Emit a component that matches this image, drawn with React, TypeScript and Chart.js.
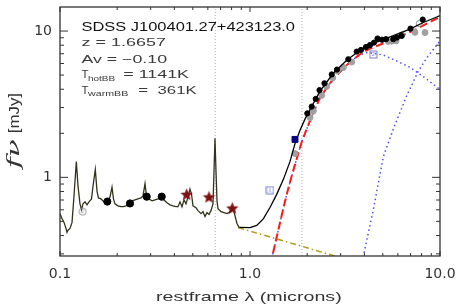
import React, { useEffect, useRef } from 'react';
import { Chart, registerables } from 'chart.js';
Chart.register(...registerables);

// ---------- axis ranges & ticks ----------
const X_MIN = 0.1;
const X_MAX = 10;
const Y_MIN = 0.29;
const Y_MAX = 14.6;
const xTickValues = [0.1, 1, 10];
const xTickLabels = ['0.1', '1.0', '10.0'];
const yTickValues = [1, 10];
const yTickLabels = ['1', '10'];
const xMinorTicks = [0.2, 0.3, 0.4, 0.5, 0.6, 0.7, 0.8, 0.9, 2, 3, 4, 5, 6, 7, 8, 9];
const yMinorTicks = [0.3, 0.4, 0.5, 0.6, 0.7, 0.8, 0.9, 2, 3, 4, 5, 6, 7, 8, 9];

// ---------- data (restframe wavelength in microns, flux in mJy) ----------
const specWave = [
  0.1, 0.1024, 0.105, 0.1075, 0.1088, 0.1102, 0.1129, 0.1157, 0.1185, 0.1219, 0.1244, 0.1274,
  0.1298, 0.1321, 0.1354, 0.1387, 0.1421, 0.1465, 0.1492, 0.1534, 0.1566, 0.1594, 0.1643, 0.1704,
  0.1746, 0.1788, 0.1833, 0.1878, 0.1912, 0.1947, 0.2019, 0.2094, 0.2158, 0.2225, 0.2307, 0.2393,
  0.2481, 0.2573, 0.2669, 0.2734, 0.2802, 0.2853, 0.2941, 0.305, 0.3162, 0.3279, 0.3401, 0.3527,
  0.3657, 0.3793, 0.3933, 0.4079, 0.4179, 0.4281, 0.4386, 0.4494, 0.4604, 0.4717, 0.4832, 0.4921,
  0.5012, 0.5197, 0.5325, 0.5522, 0.5658, 0.5796, 0.5938, 0.6084, 0.6233, 0.6386, 0.6464, 0.6543,
  0.6623, 0.6704, 0.6786, 0.7037, 0.7298, 0.7568, 0.7754, 0.7943, 0.8138, 0.8337, 0.8541, 0.875,
  0.8857,
];
const specFlux = [
  0.565, 0.523, 0.492, 0.448, 0.421, 0.435, 0.448, 0.492, 0.746, 1.28, 0.87, 0.659,
  0.601, 0.659, 0.68, 0.649, 0.68, 0.712, 0.87, 1.131, 0.806, 0.723, 0.712, 0.68,
  0.659, 0.691, 0.735, 0.857, 0.712, 0.659, 0.639, 0.63, 0.63, 0.639, 0.659, 0.691,
  0.701, 0.712, 0.723, 0.746, 0.905, 0.746, 0.712, 0.691, 0.701, 0.712, 0.723, 0.701,
  0.67, 0.649, 0.639, 0.63, 0.63, 0.68, 0.63, 0.701, 0.659, 0.735, 0.831, 0.769,
  0.639, 0.62, 0.592, 0.565, 0.583, 0.54, 0.574, 0.557, 0.592, 0.659, 1.097, 1.853,
  1.097, 0.691, 0.611, 0.583, 0.574, 0.565, 0.574, 0.583, 0.611, 0.548, 0.484, 0.455,
  0.455,
];
const modelWave = [0.8857, 1.0, 1.085, 1.175, 1.274, 1.382, 1.497, 1.623, 1.725, 1.833, 1.947, 1.988, 2.336, 2.744, 3.228, 3.793, 4.642, 5.677, 6.95, 8.17, 9.61, 10.0];
const modelFlux = [0.455, 0.453, 0.469, 0.52, 0.622, 0.765, 0.965, 1.28, 1.7, 2.1, 2.5, 2.64, 3.88, 5.145, 6.32, 7.38, 8.4, 9.3, 10.31, 11.44, 12.47, 12.75];
const totalBBWave = [1.25, 1.31, 1.4, 1.5, 1.561, 1.65, 1.725, 1.871, 1.988, 2.15, 2.336, 2.54, 2.744, 3.0, 3.228, 3.5, 3.8, 4.2, 4.642, 5.15, 5.677, 6.3, 6.95, 7.5, 8.17, 9.0, 9.61, 10.0];
const totalBBFlux = [0.21, 0.29, 0.42, 0.62, 0.765, 1.0, 1.222, 1.744, 2.142, 2.75, 3.5, 4.1, 4.7, 5.3, 5.85, 6.4, 6.95, 7.5, 7.9, 8.35, 8.8, 9.3, 9.85, 10.3, 10.95, 11.65, 12.15, 12.45];
const hotBBWave = [1.25, 1.31, 1.4, 1.5, 1.561, 1.65, 1.725, 1.871, 1.988, 2.15, 2.336, 2.54, 2.744, 3.0, 3.228, 3.5, 3.8, 4.1, 4.457, 5.03, 5.917, 6.95, 8.17, 9.79, 10.0];
const hotBBFlux = [0.21, 0.29, 0.42, 0.62, 0.765, 1.0, 1.222, 1.744, 2.142, 2.75, 3.5, 4.1, 4.7, 5.3, 5.85, 6.4, 6.9, 7.1, 7.05, 6.85, 6.24, 5.65, 4.88, 4.08, 4.0];
const warmBBWave = [3.8, 3.95, 4.457, 5.03, 5.677, 6.68, 7.66, 8.65, 9.79, 10.0];
const warmBBFlux = [0.2, 0.29, 0.6, 1.383, 2.14, 3.61, 5.28, 6.74, 8.25, 8.6];
const powerLawWave = [0.868, 2.8];
const powerLawFlux = [0.453, 0.29];
const emissionLineWave = [0.6563, 1.8756];

const uvPhotWave = [0.1774, 0.2336, 0.286, 0.343];
const uvPhotFlux = [0.683, 0.663, 0.738, 0.738];
const galexWave = [0.1317];
const galexFlux = [0.583];
const sdssWave = [0.464, 0.608, 0.807];
const sdssFlux = [0.766, 0.735, 0.617];
const nirWave = [1.725];
const nirFlux = [1.817];
const openSqWave = [1.274, 4.457];
const openSqFlux = [0.818, 6.91];
const irsBlackWave = [2.003, 2.112, 2.218, 2.322, 2.466, 2.692, 2.87, 3.291, 3.643, 3.838, 4.078, 4.28, 4.494, 4.69, 4.95, 5.197, 5.677, 5.937, 6.285, 6.993, 8.11];
const irsBlackFlux = [2.737, 3.045, 3.435, 3.946, 4.395, 5.05, 5.455, 6.415, 7.234, 7.426, 7.78, 8.02, 8.34, 8.89, 8.73, 8.8, 8.8, 9.03, 9.26, 10.39, 11.98];
const irsGrayWave = [1.725, 2.07, 2.154, 2.384, 2.533, 2.725, 2.881, 3.098, 3.43, 5.345, 5.569, 5.868, 7.385, 8.34];
const irsGrayFlux = [1.455, 2.563, 2.84, 3.636, 4.18, 4.785, 5.33, 5.626, 6.14, 8.49, 8.53, 8.56, 9.8, 9.76];
const irsOpenWave = [6.285, 7.78];
const irsOpenFlux = [9.4, 11.26];

const objectName = 'SDSS J100401.27+423123.0';
const redshiftText = 'z = 1.6657';
const avText = 'Av = \u22120.10';
const tHot = '= 1141K';
const tWarm = '=  361K';

const pts = (xs: number[], ys: number[]) => xs.map((x, i) => ({ x, y: ys[i] }));

function makeStar(size: number, color: string) {
  const c = document.createElement('canvas');
  c.width = size; c.height = size;
  const g = c.getContext('2d')!;
  const cx = size / 2, cy = size / 2 + 0.5, R = size / 2, r = R * 0.45;
  g.beginPath();
  for (let i = 0; i < 10; i++) {
    const a = -Math.PI / 2 + (i * Math.PI) / 5;
    const rad = i % 2 ? r : R;
    g.lineTo(cx + rad * Math.cos(a), cy + rad * Math.sin(a));
  }
  g.closePath();
  g.fillStyle = color;
  g.fill();
  return c;
}

function makeLabelled(shape: 'sq' | 'circ', label: string, color: string) {
  const c = document.createElement('canvas');
  c.width = 9; c.height = 9;
  const g = c.getContext('2d')!;
  g.strokeStyle = color;
  g.lineWidth = 0.9;
  if (shape === 'sq') g.strokeRect(1, 1, 7, 7);
  else { g.beginPath(); g.arc(4.5, 4.5, 3.6, 0, Math.PI * 2); g.stroke(); }
  g.fillStyle = color;
  g.font = '5px "Liberation Sans"';
  g.textAlign = 'center';
  g.textBaseline = 'middle';
  g.fillText(label, 4.5, 4.8);
  return c;
}

// draw text stretched horizontally to a given width
function fit(ctx: CanvasRenderingContext2D, text: string, x: number, y: number, width: number) {
  const w = ctx.measureText(text).width;
  ctx.save();
  ctx.translate(x, y);
  ctx.scale(width / w, 1);
  ctx.fillText(text, 0, 0);
  ctx.restore();
}

const overlay = {
  id: 'overlay',
  afterDraw(chart: any) {
    const { ctx, chartArea: a, scales } = chart;
    const xs = scales.x, ys = scales.y;
    ctx.save();
    // frame
    ctx.strokeStyle = '#333';
    ctx.lineWidth = 1.3;
    ctx.strokeRect(a.left, a.top, a.right - a.left, a.bottom - a.top);
    // ticks
    ctx.lineWidth = 1;
    ctx.beginPath();
    const xt = (v: number, len: number) => {
      const p = xs.getPixelForValue(v);
      ctx.moveTo(p, a.bottom); ctx.lineTo(p, a.bottom - len);
      ctx.moveTo(p, a.top); ctx.lineTo(p, a.top + len);
    };
    const yt = (v: number, len: number) => {
      const p = ys.getPixelForValue(v);
      ctx.moveTo(a.left, p); ctx.lineTo(a.left + len, p);
      ctx.moveTo(a.right, p); ctx.lineTo(a.right - len, p);
    };
    xTickValues.forEach((v) => xt(v, 5));
    xMinorTicks.forEach((v) => xt(v, 3));
    yTickValues.forEach((v) => yt(v, 8));
    yMinorTicks.forEach((v) => yt(v, 4));
    ctx.stroke();

    // annotations
    ctx.textAlign = 'left';
    ctx.textBaseline = 'alphabetic';
    ctx.fillStyle = '#111';
    ctx.font = '13.5px "Liberation Sans"';
    fit(ctx, objectName, 81.5, 30.7, 213.5);
    ctx.fillStyle = '#3a3a3a';
    ctx.font = '11.5px "Liberation Sans"';
    fit(ctx, redshiftText, 81.5, 46, 84.5);
    fit(ctx, avText, 81.5, 63, 85.5);
    fit(ctx, 'T', 81.5, 78.3, 7);
    fit(ctx, 'T', 81.5, 93.5, 7);
    fit(ctx, tHot, 123.3, 78.3, 65.7);
    fit(ctx, tWarm, 138.3, 93.5, 58.4);
    ctx.font = '8px "Liberation Sans"';
    fit(ctx, 'hotBB', 88, 80.5, 27);
    fit(ctx, 'warmBB', 88, 96, 40.3);

    // x title
    ctx.fillStyle = '#333';
    ctx.font = '13.5px "Liberation Sans"';
    fit(ctx, 'restframe \u03bb (microns)', 156, 300.5, 185.7);

    // y title (rotated)
    ctx.save();
    ctx.translate(18.5, 168.3);
    ctx.rotate(-Math.PI / 2);
    ctx.font = 'italic 16px "DejaVu Serif"';
    fit(ctx, 'f\u03bd', 0, 0, 29);
    ctx.font = '14px "Liberation Sans"';
    fit(ctx, '[mJy]', 35, 0, 40.3);
    ctx.restore();

    ctx.restore();
  },
};

export default function App() {
  const ref = useRef<HTMLCanvasElement>(null);
  useEffect(() => {
    const star = makeStar(13, '#7d1010');
    const sqLabelled1 = makeLabelled('sq', '1', '#6a6ad0');
    const sqLabelled2 = makeLabelled('sq', '2', '#6a6ad0');
    const circLabelled = makeLabelled('circ', '2', '#8a8a8a');

    const lineDs = (label: string, xs: number[], ys: number[], color: string, width: number, dash: number[], order: number) => ({
      label, data: pts(xs, ys), showLine: true, borderColor: color, borderWidth: width,
      borderDash: dash, pointRadius: 0, fill: false, tension: 0, order,
    });
    const dotDs = (label: string, xs: number[], ys: number[], style: any, radius: number, bg: string, border: string, order: number) => ({
      label, data: pts(xs, ys), showLine: false, pointStyle: style, pointRadius: radius,
      backgroundColor: bg, borderColor: border, borderWidth: 1, order,
    });

    const datasets: any[] = [
      ...emissionLineWave.map((w, i) => lineDs('line' + i, [w, w], [Y_MIN, Y_MAX], '#b0b0b0', 1, [1, 2], 20)),
      lineDs('warm BB', warmBBWave, warmBBFlux, '#5050e6', 1.5, [1.5, 3], 12),
      lineDs('hot BB', hotBBWave, hotBBFlux, '#5050e6', 1.5, [1.5, 3], 12),
      lineDs('total BB', totalBBWave, totalBBFlux, '#ff1a1a', 2, [8, 4], 11),
      lineDs('power law', powerLawWave, powerLawFlux, '#b09c1c', 1.5, [6, 3, 1.5, 3], 10),
      dotDs('IRS gray', irsGrayWave, irsGrayFlux, 'circle', 3, '#a0a0a0', '#a0a0a0', 9),
      dotDs('IRS open', irsOpenWave, irsOpenFlux, 'circle', 3, 'rgba(0,0,0,0)', '#8a8a8a', 9),
      lineDs('spectrum', specWave, specFlux, '#33331a', 1.3, [], 8),
      lineDs('model', modelWave, modelFlux, '#000000', 1.3, [], 7),
      dotDs('IRS black', irsBlackWave, irsBlackFlux, 'circle', 2.6, '#000', '#000', 5),
      dotDs('UV phot', uvPhotWave, uvPhotFlux, 'circle', 3.6, '#000', '#000', 4),
      dotDs('GALEX', galexWave, galexFlux, circLabelled, 4, '#fff', '#888', 4),
      dotDs('SDSS', sdssWave, sdssFlux, star, 6, '#7d1010', '#7d1010', 3),
      dotDs('NIR', nirWave, nirFlux, 'rect', 4.2, '#000080', '#000080', 2),
      {
        label: 'open sq', data: pts(openSqWave, openSqFlux), showLine: false,
        pointStyle: [sqLabelled1, sqLabelled2], pointRadius: 4, order: 2,
      },
    ];

    const chart = new Chart(ref.current!, {
      type: 'scatter',
      data: { datasets },
      plugins: [overlay],
      options: {
        animation: false,
        responsive: false,
        devicePixelRatio: 1,
        layout: { padding: { left: 0, right: 18, top: 2, bottom: 0 } },
        plugins: { legend: { display: false }, tooltip: { enabled: false } },
        scales: {
          x: {
            type: 'logarithmic', min: X_MIN, max: X_MAX,
            afterBuildTicks: (s: any) => { s.ticks = xTickValues.map((v) => ({ value: v })); },
            afterFit: (s: any) => { s.height = 49; s.paddingLeft = 0; s.paddingRight = 0; s.paddingTop = 0; s.paddingBottom = 0; },
            grid: { display: false, drawTicks: false }, border: { display: false },
            ticks: {
              autoSkip: false, maxRotation: 0, minRotation: 0, padding: 10, color: '#333',
              font: { family: 'DejaVu Sans', size: 14 },
              callback: (_v: any, i: number) => xTickLabels[i],
            },
          },
          y: {
            type: 'logarithmic', min: Y_MIN, max: Y_MAX,
            afterBuildTicks: (s: any) => { s.ticks = yTickValues.map((v) => ({ value: v })); },
            afterFit: (s: any) => { s.width = 60; s.paddingLeft = 0; s.paddingRight = 0; s.paddingTop = 0; s.paddingBottom = 0; },
            grid: { display: false, drawTicks: false }, border: { display: false },
            ticks: {
              autoSkip: false, padding: 8, color: '#333',
              font: { family: 'DejaVu Sans', size: 14 },
              callback: (_v: any, i: number) => yTickLabels[i],
            },
          },
        },
      } as any,
    });
    return () => chart.destroy();
  }, []);
  return (
    <div style={{ position: 'absolute', left: 0, top: 0, width: 458, height: 305, background: '#fff' }}>
      <canvas ref={ref} width={458} height={305} style={{ display: 'block', width: 458, height: 305 }} />
    </div>
  );
}
